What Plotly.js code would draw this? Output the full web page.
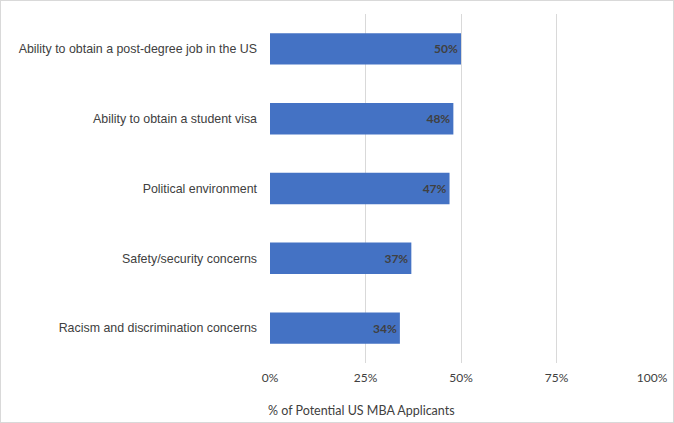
<!DOCTYPE html>
<html>
<head>
<meta charset="utf-8">
<script src="https://cdn.plot.ly/plotly-3.0.1.min.js"></script>
<style>
html,body{margin:0;padding:0;background:#fff;}
#chart{width:674px;height:423px;box-sizing:border-box;border:1px solid #d9d9d9;}
</style>
</head>
<body>
<div id="chart"></div>
<script>
const categories = [
  "Racism and discrimination concerns",
  "Safety/security concerns",
  "Political environment",
  "Ability to obtain a student visa",
  "Ability to obtain a post-degree job in the US"
];
const values = [34, 37, 47, 48, 50];
const valueLabels = ["34%", "37%", "47%", "48%", "50%"];
const tickValues = [0, 25, 50, 75, 100];
const tickLabels = ["0%", "25%", "50%", "75%", "100%"];
const axisTitle = "% of Potential US MBA Applicants";

const trace = {
  type: "bar",
  orientation: "h",
  x: values,
  y: categories,
  text: valueLabels,
  textposition: "inside",
  insidetextanchor: "end",
  textfont: {family: "Lato, 'Open Sans', sans-serif", size: 12, color: "#404040", weight: "bold"},
  marker: {color: "#4472C4", line: {width: 0}},
  hoverinfo: "none"
};

const layout = {
  width: 672, height: 421,
  margin: {l: 269, r: 21, t: 13, b: 59},
  paper_bgcolor: "#ffffff",
  plot_bgcolor: "#ffffff",
  bargap: 0.55,
  showlegend: false,
  font: {family: "'Liberation Sans', Arial, sans-serif", color: "#404040"},
  xaxis: {
    range: [0, 100],
    tickvals: tickValues,
    ticktext: tickLabels,
    showgrid: true,
    gridcolor: "#d9d9d9",
    gridwidth: 1,
    zeroline: false,
    showline: false,
    ticks: "",
    tickfont: {family: "Lato, 'Open Sans', sans-serif", size: 12, color: "#404040"},
    ticklabelstandoff: 6,
    fixedrange: true
  },
  yaxis: {
    showgrid: false,
    zeroline: false,
    showline: false,
    ticks: "",
    ticklabelstandoff: 12,
    tickfont: {family: "'Liberation Sans', Arial, sans-serif", size: 12.4, color: "#404040"},
    fixedrange: true
  },
  annotations: [{
    text: axisTitle,
    xref: "paper", yref: "paper",
    x: 0.24, y: -0.135,
    xanchor: "center", yanchor: "middle",
    showarrow: false,
    font: {family: "Lato, 'Open Sans', sans-serif", size: 12.5, color: "#404040"}
  }]
};

Plotly.newPlot("chart", [trace], layout, {displayModeBar: false, staticPlot: true});
</script>
</body>
</html>
